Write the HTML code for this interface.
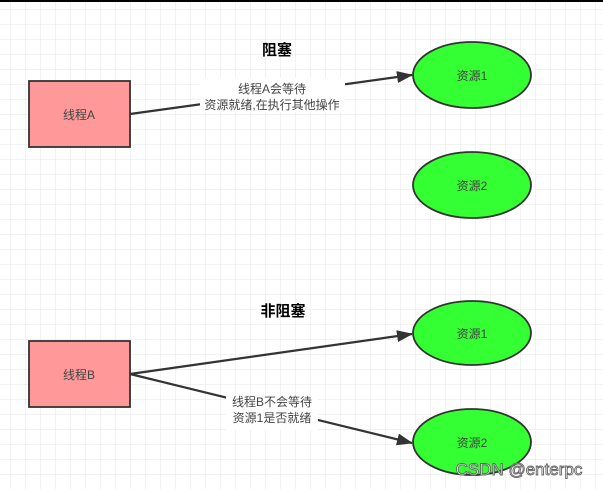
<!DOCTYPE html>
<html><head><meta charset="utf-8"><style>
body{margin:0;width:603px;height:489px;overflow:hidden;background:#fff}
</style></head><body>
<svg width="603" height="489" xmlns="http://www.w3.org/2000/svg" font-family="Liberation Sans, Noto Sans CJK SC, sans-serif">
<defs>
<pattern id="g" width="15" height="15" patternUnits="userSpaceOnUse" x="-4" y="-5">
<path d="M15 0V15M0 15H15" stroke="#e6e6e6" stroke-width="1" fill="none"/>
</pattern>
<marker id="ar" markerWidth="16" markerHeight="12" refX="15" refY="6" orient="auto" markerUnits="userSpaceOnUse">
<path d="M0,0 L16,6 L0,12 Z" fill="#333"/>
</marker>
</defs>
<rect width="603" height="489" fill="url(#g)"/>
<rect x="0" y="0" width="603" height="2" fill="#000"/>
<text x="277" y="55" font-size="15" font-weight="bold" text-anchor="middle" fill="#000">阻塞</text>
<text x="283" y="316" font-size="15" font-weight="bold" text-anchor="middle" fill="#000">非阻塞</text>
<g stroke="#333" stroke-width="2.2" fill="none">
<line x1="130" y1="114" x2="412" y2="75" marker-end="url(#ar)"/>
<line x1="130" y1="374" x2="412" y2="334" marker-end="url(#ar)"/>
<line x1="130" y1="374" x2="412" y2="443" marker-end="url(#ar)"/>
</g>
<rect x="200" y="78" width="145" height="34" fill="#fff"/>
<text x="272" y="93" font-size="12" text-anchor="middle" fill="#444">线程A会等待</text>
<text x="272" y="109" font-size="12" text-anchor="middle" fill="#444">资源就绪,在执行其他操作</text>
<rect x="226" y="396" width="92" height="34" fill="#fff"/>
<text x="272" y="406" font-size="12" text-anchor="middle" fill="#444">线程B不会等待</text>
<text x="272" y="422" font-size="12" text-anchor="middle" fill="#444">资源1是否就绪</text>
<g stroke="#333" stroke-width="1.8">
<rect x="29" y="81" width="101" height="66" fill="#ff9999"/>
<rect x="29" y="341" width="101" height="66" fill="#ff9999"/>
<ellipse cx="472" cy="75" rx="59" ry="33" fill="#33ff33"/>
<ellipse cx="472" cy="185" rx="59" ry="33" fill="#33ff33"/>
<ellipse cx="472" cy="333" rx="59" ry="32" fill="#33ff33"/>
<ellipse cx="472" cy="442" rx="59" ry="33" fill="#33ff33"/>
</g>
<g font-size="12" fill="#444" text-anchor="middle">
<text x="79" y="119">线程A</text>
<text x="79" y="379">线程B</text>
<text x="472" y="80">资源1</text>
<text x="472" y="190">资源2</text>
<text x="472" y="338">资源1</text>
<text x="472" y="447">资源2</text>
</g>
<text x="519" y="475" font-size="17" text-anchor="middle" fill="#fff" stroke="#666" stroke-width="0.9">CSDN @enterpc</text>
</svg>
</body></html>
